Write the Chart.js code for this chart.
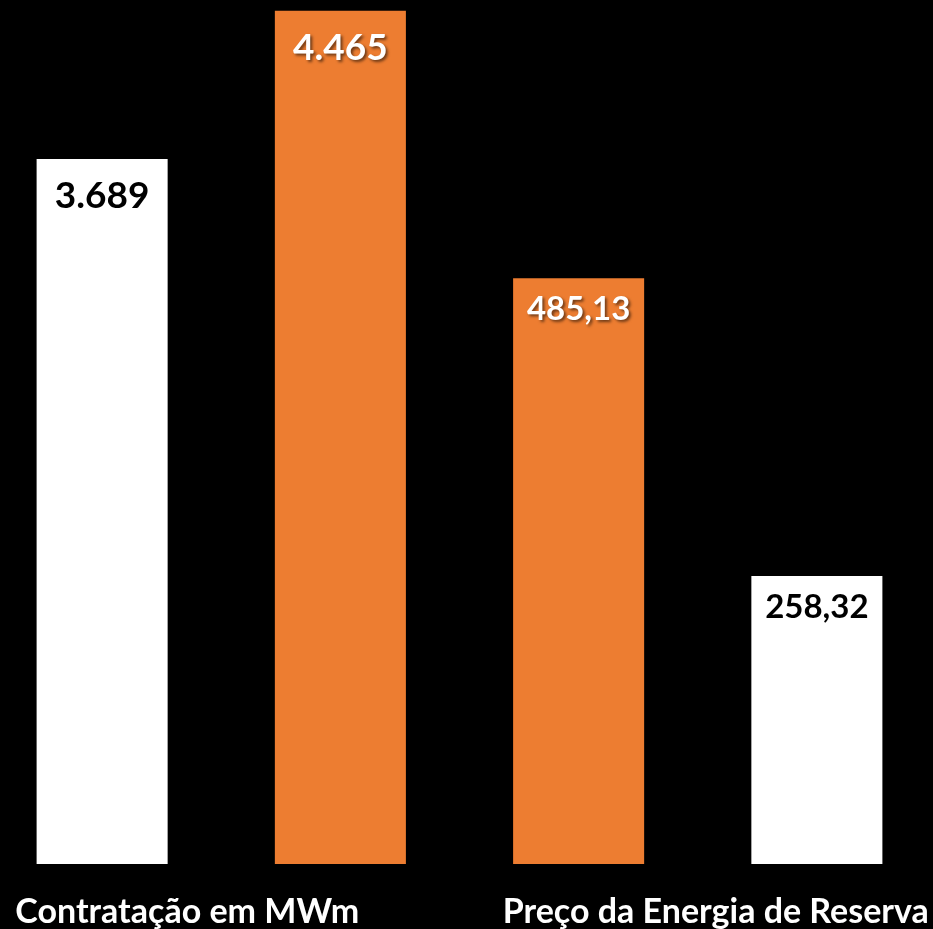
<!DOCTYPE html>
<html>
<head>
<meta charset="utf-8">
<script src="https://cdn.jsdelivr.net/npm/chart.js@4/dist/chart.umd.min.js"></script>
<style>
  html, body { margin: 0; padding: 0; background: #000; overflow: hidden; width: 933px; height: 929px; }
  #wrap { width: 953px; height: 929px; position: absolute; left: -17px; top: 0; }
</style>
</head>
<body>
<div id="wrap"><canvas id="c"></canvas></div>
<script>
// ---- data ----
const categories = ['Contratação em MWm', 'Preço da Energia de Reserva'];
const contractWhite  = [3689, null];     // white bar, MWm
const contractOrange = [4465, null];     // orange bar, MWm
const priceOrange    = [null, 485.13];   // orange bar, R$/MWh
const priceWhite     = [null, 258.32];   // white bar, R$/MWh
const decimals = [0, 2];                 // decimals shown per category

const WHITE = '#FFFFFF';
const ORANGE = '#ED7D31';
const FONT = 'Lato, "Liberation Sans", sans-serif';

function fmtBR(v, d) {
  const parts = v.toFixed(d).split('.');
  const int = parts[0].replace(/\B(?=(\d{3})+(?!\d))/g, '.');
  return parts.length > 1 ? int + ',' + parts[1] : int;
}

const valueLabelPlugin = {
  id: 'valueLabels',
  afterDatasetsDraw(chart) {
    const ctx = chart.ctx;
    chart.data.datasets.forEach((ds, di) => {
      const meta = chart.getDatasetMeta(di);
      meta.data.forEach((el, i) => {
        const v = ds.data[i];
        if (v === null || v === undefined) return;
        const isOrange = ds.backgroundColor === ORANGE;
        const size = i === 0 ? 37 : 33;
        const base = i === 0 ? 49 : 42;
        ctx.save();
        ctx.font = 'bold ' + size + 'px ' + FONT;
        ctx.textAlign = 'center';
        ctx.textBaseline = 'alphabetic';
        if (isOrange) {
          ctx.fillStyle = '#FFFFFF';
          ctx.shadowColor = 'rgba(0,0,0,0.55)';
          ctx.shadowOffsetX = 2;
          ctx.shadowOffsetY = 2;
          ctx.shadowBlur = 3;
        } else {
          ctx.fillStyle = '#000000';
        }
        ctx.fillText(fmtBR(v, decimals[i]), el.x, el.y + base);
        ctx.restore();
      });
    });
  }
};

const labelShift = [-34, 18];
const categoryLabelPlugin = {
  id: 'categoryLabels',
  afterDraw(chart) {
    const ctx = chart.ctx;
    const xs = chart.scales.x;
    ctx.save();
    ctx.font = 'bold 34px ' + FONT;
    ctx.fillStyle = '#FFFFFF';
    ctx.textAlign = 'center';
    ctx.textBaseline = 'alphabetic';
    categories.forEach((c, i) => {
      ctx.fillText(c, xs.getPixelForValue(i) + labelShift[i], 923);
    });
    ctx.restore();
  }
};

new Chart(document.getElementById('c'), {
  type: 'bar',
  data: {
    labels: categories,
    datasets: [
      { label: 'MWm A', data: contractWhite, backgroundColor: WHITE, yAxisID: 'y' },
      { label: 'MWm B', data: contractOrange, backgroundColor: ORANGE, yAxisID: 'y' },
      { label: 'Preço A', data: priceOrange, backgroundColor: ORANGE, yAxisID: 'y2' },
      { label: 'Preço B', data: priceWhite, backgroundColor: WHITE, yAxisID: 'y2' }
    ]
  },
  options: {
    responsive: true,
    maintainAspectRatio: false,
    animation: false,
    devicePixelRatio: 1,
    layout: { padding: { left: 0, right: 0, top: 4, bottom: 65 } },
    datasets: { bar: { skipNull: true, barPercentage: 0.55, categoryPercentage: 1.0, borderWidth: 0 } },
    plugins: { legend: { display: false }, tooltip: { enabled: false } },
    scales: {
      x: { display: false, grid: { display: false } },
      y: { display: false, min: 0, max: 4500 },
      y2: { display: false, min: 39, max: 694, position: 'right' }
    }
  },
  plugins: [valueLabelPlugin, categoryLabelPlugin]
});
</script>
</body>
</html>
